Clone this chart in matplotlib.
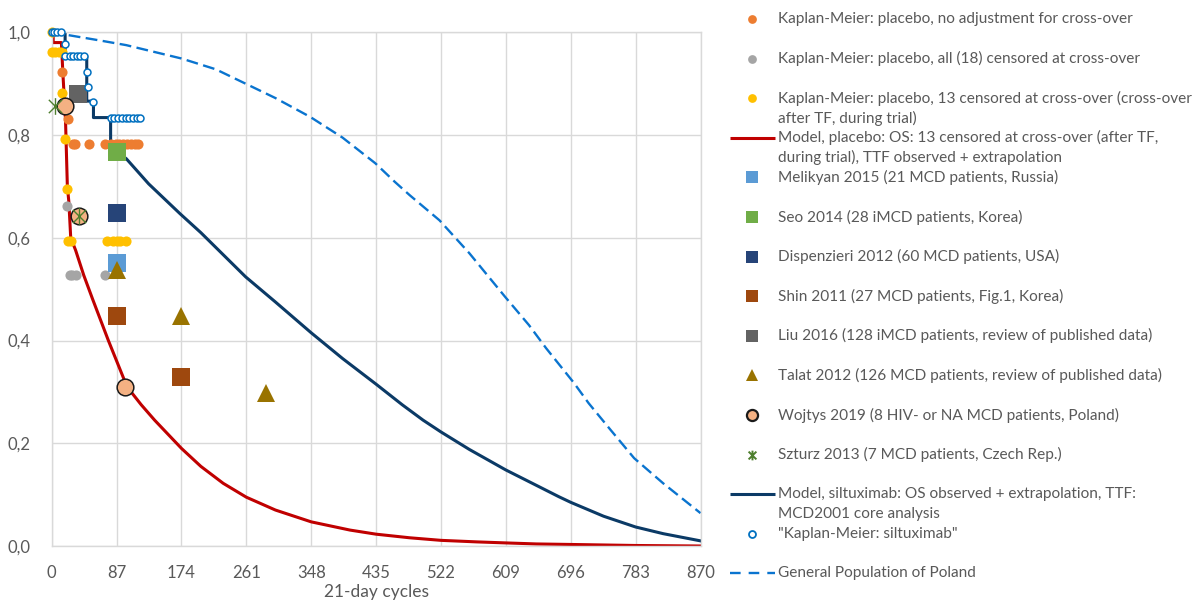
import matplotlib
matplotlib.use('Agg')
import matplotlib.pyplot as plt
from matplotlib.path import Path

W, H, DPI = 1197, 601, 100

# ---------------- data ----------------
red_t = [0, 2, 2, 13, 15, 18.5, 21, 23, 25.5, 32, 43, 55, 76, 101, 120, 138, 174, 200, 230, 261, 300,
         348, 400, 435, 480, 522, 570, 609, 650, 696, 783, 870]
red_s = [1.0, 1.0, 0.98, 0.98, 0.92, 0.83, 0.70, 0.67, 0.60, 0.576, 0.527, 0.48, 0.40, 0.31, 0.275, 0.245,
         0.19, 0.155, 0.122, 0.095, 0.07, 0.047, 0.031, 0.023, 0.016, 0.011, 0.008, 0.006, 0.004, 0.003,
         0.001, 0.0]

navy_t = [0, 18, 18, 47, 47, 56, 56, 79, 79, 87, 100, 130, 172, 200, 260, 300, 328, 348, 390, 435, 470,
          498, 522, 560, 609, 650, 680, 696, 740, 783, 820, 870]
navy_s = [1.0, 1.0, 0.953, 0.953, 0.866, 0.866, 0.834, 0.834, 0.78, 0.768, 0.754, 0.705, 0.647, 0.61,
          0.524, 0.475, 0.44, 0.415, 0.365, 0.315, 0.275, 0.245, 0.222, 0.188, 0.148, 0.118, 0.096, 0.085,
          0.058, 0.037, 0.024, 0.010]

gp_t = [0, 65, 100, 174, 220, 260, 300, 347, 390, 434, 460, 480, 520, 560, 608, 640, 663, 700, 720,
        750, 781, 820, 870]
gp_s = [1.0, 0.984, 0.975, 0.949, 0.928, 0.900, 0.872, 0.835, 0.795, 0.745, 0.709, 0.683, 0.634, 0.57,
        0.485, 0.43, 0.385, 0.318, 0.278, 0.225, 0.171, 0.122, 0.064]

km_orange_t = [14, 22, 28, 31, 50, 72, 80, 86, 90, 96, 101, 107, 112, 116]
km_orange_s = [0.922, 0.832, 0.783, 0.783, 0.783, 0.783, 0.783, 0.783, 0.783, 0.783, 0.783, 0.783, 0.783, 0.783]

km_gray_t = [21, 24, 27, 33, 72]
km_gray_s = [0.661, 0.527, 0.527, 0.527, 0.527]

km_yellow_t = [0, 0, 5, 10, 14, 14, 18, 21, 22, 26, 74, 82, 87, 91, 100]
km_yellow_s = [1.0, 0.962, 0.962, 0.962, 0.962, 0.881, 0.793, 0.694, 0.594, 0.594, 0.594, 0.594, 0.594, 0.594, 0.594]

km_silt_t = [0, 3, 7, 13, 18, 18, 24, 29, 33.5, 38, 43, 47, 49, 56, 80, 84, 89, 94, 99, 104, 109, 114, 119]
km_silt_s = [1.0, 1.0, 1.0, 1.0, 0.978, 0.953, 0.953, 0.953, 0.953, 0.953, 0.953, 0.922, 0.894, 0.864,
             0.834, 0.834, 0.834, 0.834, 0.834, 0.834, 0.834, 0.834, 0.834]

melikyan_t, melikyan_s = [87], [0.55]
seo_t, seo_s = [87], [0.767]
disp_t, disp_s = [87], [0.649]
shin_t, shin_s = [87, 174], [0.447, 0.329]
liu_t, liu_s = [35], [0.879]
talat_t, talat_s = [87, 174, 288], [0.537, 0.447, 0.298]
wojtys_t, wojtys_s = [18, 36, 98], [0.856, 0.642, 0.31]
szturz_t, szturz_s = [4, 36], [0.856, 0.642]

xticks = [0, 87, 174, 261, 348, 435, 522, 609, 696, 783, 870]
yticks = [0.0, 0.2, 0.4, 0.6, 0.8, 1.0]
ytick_labels = ['0,0', '0,2', '0,4', '0,6', '0,8', '1,0']
xlabel = '21-day cycles'

legend_labels = [
    ['Kaplan-Meier: placebo, no adjustment for cross-over'],
    ['Kaplan-Meier: placebo, all (18) censored at cross-over'],
    ['Kaplan-Meier: placebo, 13 censored at cross-over (cross-over', 'after TF, during trial)'],
    ['Model, placebo: OS: 13 censored at cross-over (after TF,', 'during trial), TTF observed + extrapolation'],
    ['Melikyan 2015 (21 MCD patients, Russia)'],
    ['Seo 2014 (28 iMCD patients, Korea)'],
    ['Dispenzieri 2012 (60 MCD patients, USA)'],
    ['Shin 2011 (27 MCD patients, Fig.1, Korea)'],
    ['Liu 2016 (128 iMCD patients, review of published data)'],
    ['Talat 2012 (126 MCD patients, review of published data)'],
    ['Wojtys 2019 (8 HIV- or NA MCD patients, Poland)'],
    ['Szturz 2013 (7 MCD patients, Czech Rep.)'],
    ['Model, siltuximab: OS observed + extrapolation, TTF:', 'MCD2001 core analysis'],
    ['"Kaplan-Meier: siltuximab"'],
    ['General Population of Poland'],
]

# ---------------- styles ----------------
C_OR = '#ED7D31'; C_GR = '#A5A5A5'; C_YE = '#FFC000'; C_RED = '#C00000'
C_MEL = '#5B9BD5'; C_SEO = '#70AD47'; C_DIS = '#264478'; C_SHIN = '#9E480E'
C_LIU = '#636363'; C_TAL = '#997300'; C_WOJ = '#F4B183'; C_SZ = '#4E7F2E'
C_NAVY = '#0B3A66'; C_KM = '#0070C0'; C_GP = '#0A74CF'
TXT = '#595959'; GRID = '#D9D9D9'
FONT = 'Lato'

star_path = Path([(-1, -1), (1, 1), (-1, 1), (1, -1), (0, -1.25), (0, 1.25)],
                 [Path.MOVETO, Path.LINETO, Path.MOVETO, Path.LINETO, Path.MOVETO, Path.LINETO])

plt.rcParams['font.family'] = [FONT, 'DejaVu Sans']

fig = plt.figure(figsize=(W / DPI, H / DPI), dpi=DPI)
left, right, top, bottom = 51.7, 700.5, 32.3, 546.0
ax = fig.add_axes([left / W, 1 - bottom / H, (right - left) / W, (bottom - top) / H])

ax.set_xlim(0, 870)
ax.set_ylim(0, 1.0)
ax.set_xticks(xticks)
ax.set_yticks(yticks)
ax.set_yticklabels(ytick_labels)
ax.tick_params(length=0, labelsize=12, labelcolor=TXT)
ax.tick_params(axis='x', pad=14)
ax.tick_params(axis='y', pad=15)
ax.grid(True, color=GRID, lw=1.0)
ax.set_axisbelow(True)
for sp in ax.spines.values():
    sp.set_color(GRID)
    sp.set_linewidth(1.0)

# lines
ax.plot(gp_t, gp_s, color=C_GP, lw=1.7, linestyle=(0, (5, 2.3)), zorder=2)
ax.plot(navy_t, navy_s, color=C_NAVY, lw=2.2, zorder=2, solid_joinstyle='round')
ax.plot(red_t, red_s, color=C_RED, lw=2.2, zorder=2, solid_joinstyle='round')

# KM placebo points
ax.plot(km_orange_t, km_orange_s, 'o', color=C_OR, ms=7.3, mew=0, zorder=3, clip_on=False)
ax.plot(km_gray_t, km_gray_s, 'o', color=C_GR, ms=7.3, mew=0, zorder=3, clip_on=False)
ax.plot(km_yellow_t, km_yellow_s, 'o', color=C_YE, ms=7.3, mew=0, zorder=3, clip_on=False)

# study markers
ax.plot(melikyan_t, melikyan_s, 's', color=C_MEL, ms=12.5, mew=0, zorder=4)
ax.plot(seo_t, seo_s, 's', color=C_SEO, ms=12.5, mew=0, zorder=4)
ax.plot(disp_t, disp_s, 's', color=C_DIS, ms=12.5, mew=0, zorder=4)
ax.plot(shin_t, shin_s, 's', color=C_SHIN, ms=12.5, mew=0, zorder=4)
ax.plot(liu_t, liu_s, 's', color=C_LIU, ms=12.5, mew=0, zorder=4)
ax.plot(talat_t, talat_s, '^', color=C_TAL, ms=13, mew=0, zorder=4)
ax.plot(wojtys_t, wojtys_s, 'o', mfc=C_WOJ, mec='#1a1a1a', ms=12, mew=1.1, zorder=5)
ax.plot(szturz_t, szturz_s, marker=star_path, ls='none', mfc='none', mec=C_SZ, ms=12, mew=1.0, zorder=6, clip_on=False)

# KM siltuximab
ax.plot(km_silt_t, km_silt_s, 'o', mfc='white', mec=C_KM, ms=5, mew=1.1, zorder=7, clip_on=False)

fig.text(376 / W, 1 - 592 / H, xlabel, ha='center', va='center', fontsize=12.5, color=TXT)

# ---------------- legend (manual, pixel coordinates) ----------------
lg = fig.add_axes([0, 0, 1, 1])
lg.set_xlim(0, W)
lg.set_ylim(H, 0)
lg.axis('off')

renderer = fig.canvas.get_renderer()
probe = lg.text(0, 0, legend_labels[2][0], fontsize=12)
wpx = probe.get_window_extent(renderer).width
probe.remove()
lfs = 12 * 414.0 / wpx

row0, step = 19.0, 39.6
mx, tx = 752, 778
handles = [
    dict(marker='o', mfc=C_OR, mec=C_OR, ms=6.3, mew=0),
    dict(marker='o', mfc=C_GR, mec=C_GR, ms=6.3, mew=0),
    dict(marker='o', mfc=C_YE, mec=C_YE, ms=6.3, mew=0),
    'red',
    dict(marker='s', mfc=C_MEL, mec=C_MEL, ms=8.5, mew=0),
    dict(marker='s', mfc=C_SEO, mec=C_SEO, ms=8.5, mew=0),
    dict(marker='s', mfc=C_DIS, mec=C_DIS, ms=8.5, mew=0),
    dict(marker='s', mfc=C_SHIN, mec=C_SHIN, ms=8.5, mew=0),
    dict(marker='s', mfc=C_LIU, mec=C_LIU, ms=8.5, mew=0),
    dict(marker='^', mfc=C_TAL, mec=C_TAL, ms=9, mew=0),
    dict(marker='o', mfc=C_WOJ, mec='#1a1a1a', ms=8, mew=1.6),
    dict(marker=star_path, mfc='none', mec=C_SZ, ms=7, mew=1.4),
    'navy',
    dict(marker='o', mfc='white', mec=C_KM, ms=5, mew=1.3),
    'gp',
]
for i, (h, lines) in enumerate(zip(handles, legend_labels)):
    y = row0 + step * i
    if h == 'red':
        lg.plot([730, 775], [y, y], color=C_RED, lw=2.2, solid_capstyle='butt')
    elif h == 'navy':
        lg.plot([730, 775], [y, y], color=C_NAVY, lw=2.2, solid_capstyle='butt')
    elif h == 'gp':
        lg.plot([730, 775], [y, y], color=C_GP, lw=1.7, linestyle=(0, (4.5, 3.4)), solid_capstyle='butt')
    else:
        lg.plot([mx], [y], ls='none', **h)
    for j, line in enumerate(lines):
        lg.text(tx, y + 20 * j, line, fontsize=lfs, color=TXT, ha='left', va='center')

fig.savefig('out.png', dpi=DPI)
